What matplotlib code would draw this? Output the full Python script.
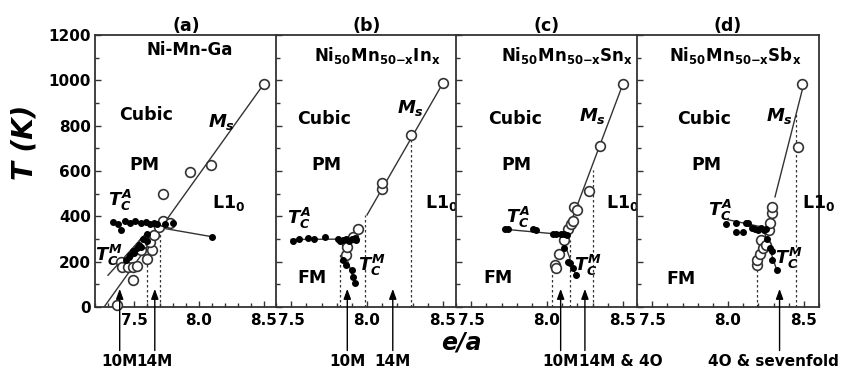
import matplotlib.pyplot as plt
from matplotlib.ticker import MultipleLocator

plt.rcParams['font.family'] = ['DejaVu Sans']
plt.rcParams['font.weight'] = 'bold'
plt.rcParams['mathtext.fontset'] = 'custom'
plt.rcParams['mathtext.rm'] = 'DejaVu Sans:bold'
plt.rcParams['mathtext.it'] = 'DejaVu Sans:bold:italic'
plt.rcParams['mathtext.bf'] = 'DejaVu Sans:bold'

# ---- panel (a) Ni-Mn-Ga
a_ms_x = [7.37, 7.40, 7.41, 7.45, 7.49, 7.52, 7.49, 7.55, 7.57, 7.64, 7.60, 7.62, 7.65, 7.69, 7.72, 7.78, 7.72, 7.93, 8.09, 8.50]
a_ms_y = [9, 200, 178, 175, 175, 180, 119, 251, 282, 251, 210, 288, 318, 354, 381, 370, 498, 595, 626, 985]
a_tca_x = [7.34, 7.38, 7.43, 7.47, 7.51, 7.55, 7.59, 7.62, 7.65, 7.68, 7.74, 7.80, 7.40, 8.10]
a_tca_y = [375, 368, 380, 372, 378, 370, 376, 365, 372, 368, 365, 370, 340, 310]
a_tcm_x = [7.44, 7.46, 7.47, 7.49, 7.50, 7.52, 7.54, 7.55, 7.57, 7.60, 7.60]
a_tcm_y = [207, 220, 230, 245, 238, 260, 275, 265, 300, 320, 290]
a_ms_line = ([7.27, 8.50], [0, 985])
a_tca_line = ([7.65, 8.10], [355, 310])
a_tcm_line = ([7.30, 7.60], [140, 330])
a_dash_x = [7.60, 7.70]
a_dash_top = [238, 325]
a_arrow_x = [7.39, 7.66]

# ---- panel (b) Ni50Mn50-xInx
b_ms_x = [7.86, 7.87, 7.91, 7.94, 8.10, 8.10, 8.29, 8.50]
b_ms_y = [229, 263, 310, 343, 520, 545, 759, 987]
b_tca_x = [7.51, 7.55, 7.61, 7.65, 7.72, 7.81, 7.82, 7.84, 7.86, 7.88, 7.90, 7.92, 7.93]
b_tca_y = [293, 300, 305, 300, 307, 300, 290, 296, 302, 292, 298, 305, 296]
b_tcm_x = [7.84, 7.86, 7.90, 7.91, 7.92]
b_tcm_y = [207, 184, 163, 134, 107]
b_ms_line = ([8.00, 8.50], [406, 987])
b_tca_line = ([7.50, 7.95], [298, 300])
b_tcm_line = ([7.83, 7.92], [290, 105])
b_dash_x = [7.82, 7.99, 8.29]
b_dash_top = [237, 406, 759]
b_arrow_x = [7.87, 8.17]

# ---- panel (c) Ni50Mn50-xSnx
c_ms_x = [8.05, 8.06, 8.08, 8.11, 8.14, 8.16, 8.17, 8.18, 8.20, 8.28, 8.35, 8.50]
c_ms_y = [185, 170, 234, 295, 343, 365, 381, 440, 428, 513, 710, 983]
c_tca_x = [7.72, 7.74, 7.91, 7.93, 8.04, 8.06, 8.09, 8.11, 8.13]
c_tca_y = [343, 343, 343, 340, 322, 320, 320, 320, 318]
c_tcm_x = [8.11, 8.14, 8.15, 8.17, 8.19]
c_tcm_y = [259, 200, 193, 170, 141]
c_ms_line = ([8.13, 8.50], [325, 983])
c_tca_line = ([7.72, 8.13], [343, 318])
c_tcm_line = ([8.10, 8.19], [310, 140])
c_dash_x = [8.03, 8.15, 8.30]
c_dash_top = [193, 295, 604]
c_arrow_x = [8.09, 8.25]

# ---- panel (d) Ni50Mn50-xSbx
d_ms_x = [8.19, 8.19, 8.21, 8.22, 8.23, 8.25, 8.27, 8.28, 8.29, 8.29, 8.46, 8.49]
d_ms_y = [185, 207, 236, 295, 259, 273, 340, 369, 413, 442, 707, 983]
d_tca_x = [7.99, 8.05, 8.05, 8.10, 8.12, 8.13, 8.16, 8.18, 8.20, 8.22, 8.24, 8.25]
d_tca_y = [366, 372, 332, 332, 372, 369, 348, 345, 340, 348, 340, 345]
d_tcm_x = [8.26, 8.28, 8.29, 8.29, 8.32]
d_tcm_y = [300, 259, 245, 207, 163]
d_ms_line = ([8.31, 8.50], [486, 985])
d_tca_line = ([8.00, 8.28], [385, 345])
d_tcm_line = ([8.23, 8.32], [350, 165])
d_dash_x = [8.19, 8.45]
d_dash_top = [185, 850]
d_arrow_x = [8.34]

panels = [
    ('(a)', 'Ni-Mn-Ga', (7.2, 8.6), a_ms_x, a_ms_y, a_tca_x, a_tca_y, a_tcm_x, a_tcm_y,
     a_ms_line, a_tca_line, a_tcm_line, a_dash_x, a_dash_top, a_arrow_x),
    ('(b)', r'Ni$_{50}$Mn$_{50\mathrm{-x}}$In$_{\mathrm{x}}$', (7.4, 8.6), b_ms_x, b_ms_y, b_tca_x, b_tca_y,
     b_tcm_x, b_tcm_y, b_ms_line, b_tca_line, b_tcm_line, b_dash_x, b_dash_top, b_arrow_x),
    ('(c)', r'Ni$_{50}$Mn$_{50\mathrm{-x}}$Sn$_{\mathrm{x}}$', (7.4, 8.6), c_ms_x, c_ms_y, c_tca_x, c_tca_y,
     c_tcm_x, c_tcm_y, c_ms_line, c_tca_line, c_tcm_line, c_dash_x, c_dash_top, c_arrow_x),
    ('(d)', r'Ni$_{50}$Mn$_{50\mathrm{-x}}$Sb$_{\mathrm{x}}$', (7.4, 8.6), d_ms_x, d_ms_y, d_tca_x, d_tca_y,
     d_tcm_x, d_tcm_y, d_ms_line, d_tca_line, d_tcm_line, d_dash_x, d_dash_top, d_arrow_x),
]

# label positions (data coords) for each panel: Cubic, PM, L10, Ms, TcA, TcM, FM, title
label_pos = [
    [(7.59, 845), (7.58, 626), (8.23, 459), (8.17, 816), (7.39, 472), (7.31, 229), None, (7.93, 1135)],
    [(7.72, 830), (7.73, 626), (8.49, 459), (8.29, 878), (7.55, 392), (8.03, 185), (7.64, 128), (8.07, 1110)],
    [(7.79, 830), (7.80, 626), (8.50, 459), (8.30, 842), (7.81, 397), (8.27, 185), (7.68, 128), (8.13, 1110)],
    [(7.84, 830), (7.86, 626), (8.60, 459), (8.34, 842), (7.95, 428), (8.40, 216), (7.69, 123), (8.05, 1110)],
]

arrow_labels = [
    [(7.39, '10M', 'center'), (7.66, '14M', 'center')],
    [(7.87, '10M', 'center'), (8.17, '14M', 'center')],
    [(8.09, '10M', 'center'), (8.21, '14M & 4O', 'left')],
    [(8.30, '4O & sevenfold', 'center')],
]

fig = plt.figure(figsize=(8.43, 3.68), dpi=100)
lefts = [95, 276, 456, 637]
for i, p in enumerate(panels):
    (tag, name, xl, msx, msy, tax, tay, tmx, tmy, msl, tal, tml, dx, dtop, arx) = p
    ax = fig.add_axes([lefts[i] / 843, 1 - 307 / 368, 182 / 843, 272 / 368])
    ax.set_xlim(*xl)
    ax.set_ylim(0, 1200)
    for s in ax.spines.values():
        s.set_linewidth(1.3)
        s.set_color('#333333')
    ax.plot(*msl, color='#333333', lw=1.0, zorder=2)
    ax.plot(*tal, color='#333333', lw=1.0, zorder=2)
    ax.plot(*tml, color='#333333', lw=1.0, zorder=2)
    for x, t in zip(dx, dtop):
        ax.plot([x, x], [0, t], color='#333333', lw=0.9, ls=(0, (2, 2)), zorder=1)
    ax.plot(msx, msy, 'o', ms=7, mfc='white', mec='#333333', mew=1.2, zorder=3, clip_on=False)
    ax.plot(tax, tay, 'o', ms=4, color='black', zorder=4)
    ax.plot(tmx, tmy, 'o', ms=4, color='black', zorder=4)

    ax.xaxis.set_major_locator(MultipleLocator(0.5))
    ax.xaxis.set_minor_locator(MultipleLocator(0.1))
    ax.yaxis.set_major_locator(MultipleLocator(200))
    ax.yaxis.set_minor_locator(MultipleLocator(100))
    ax.tick_params(which='both', direction='in', labelsize=11, width=1, color='#333333')
    ax.tick_params(which='major', length=4)
    ax.tick_params(which='minor', length=3)
    ax.tick_params(axis='x', pad=4)
    ax.tick_params(axis='y', pad=3)
    ax.set_xticks([7.5, 8.0, 8.5])
    ax.set_xticklabels(['7.5', '8.0', '8.5'])
    if i > 0:
        ax.set_yticklabels([])
    ax.set_title(tag, fontsize=12.5, fontweight='bold', pad=2)

    lp = label_pos[i]
    ax.text(*lp[0], 'Cubic', fontsize=12.5, ha='center', va='center')
    ax.text(*lp[1], 'PM', fontsize=12.5, ha='center', va='center')
    ax.text(*lp[2], r'L1$_{0}$', fontsize=12.5, ha='center', va='center', clip_on=False)
    ax.text(*lp[3], r'$M_s$', fontsize=13, ha='center', va='center')
    ax.text(*lp[4], r'$T_C^A$', fontsize=13, ha='center', va='center')
    ax.text(*lp[5], r'$T_C^M$', fontsize=13, ha='center', va='center')
    if lp[6] is not None:
        ax.text(*lp[6], 'FM', fontsize=12.5, ha='center', va='center')
    ax.text(*lp[7], name, fontsize=12, ha='center', va='center')

    for x in arx:
        ax.annotate('', xy=(x, 80), xycoords='data', xytext=(x, -0.16),
                    textcoords=ax.get_xaxis_transform(),
                    arrowprops=dict(arrowstyle='-|>,head_length=0.6,head_width=0.22',
                                    color='black', lw=1, shrinkA=0, shrinkB=0),
                    annotation_clip=False)
    for x, s, ha in arrow_labels[i]:
        ax.text(x, -0.2, s, transform=ax.get_xaxis_transform(), fontsize=11,
                ha=ha, va='center', clip_on=False)

fig.text(24 / 843, 1 - 142 / 368, 'T (K)', rotation=90, fontsize=20, style='italic',
         fontweight='bold', ha='center', va='center')
fig.text(461 / 843, 1 - 343 / 368, 'e/a', fontsize=17, style='italic',
         fontweight='bold', ha='center', va='center')

fig.savefig('out.png', dpi=100)
